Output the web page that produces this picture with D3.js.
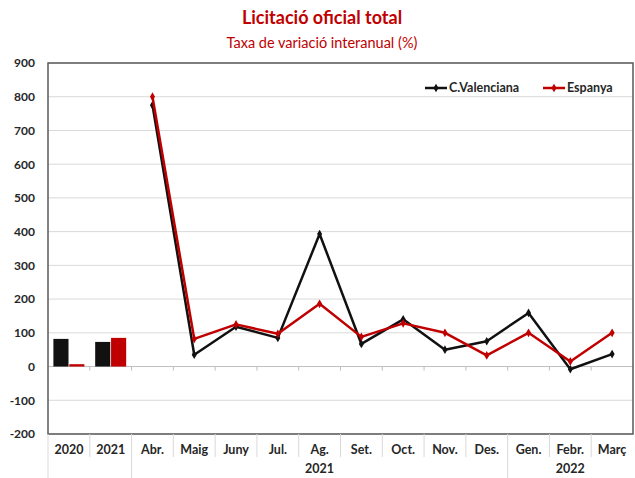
<!DOCTYPE html>
<html>
<head>
<meta charset="utf-8">
<script src="https://cdn.jsdelivr.net/npm/d3@7"></script>
<style>
  body { margin: 0; background: #fff; }
  svg text { font-family: Lato, "Noto Sans", sans-serif; }
</style>
</head>
<body>
<div id="chart"></div>
<script>
// categories: two annual bars then monthly points
const categories = ["2020", "2021", "Abr.", "Maig", "Juny", "Jul.", "Ag.", "Set.", "Oct.", "Nov.", "Des.", "Gen.", "Febr.", "Març"];
const yearGroups = [
    { label: "", from: 0, to: 1 },
    { label: "2021", from: 2, to: 10 },
    { label: "2022", from: 11, to: 13 }
];
const seriesNames = ["C.Valenciana", "Espanya"];
const annualCV = [82, 73];
const annualES = [7, 85];
const monthlyCV = [775, 35, 118, 85, 393, 67, 140, 50, 75, 159, -8, 37];
const monthlyES = [800, 82, 125, 97, 186, 88, 128, 100, 33, 100, 15, 100];
const yTicks = [-200, -100, 0, 100, 200, 300, 400, 500, 600, 700, 800, 900];

const W = 635, H = 478;
const mLeft = 48, mRight = 633, mTop = 63, mBottom = 434;
const colors = { "C.Valenciana": "#111111", "Espanya": "#c00000" };
const labelSize = "12.5px";

const svg = d3.select("#chart").append("svg")
    .attr("width", W)
    .attr("height", H);

const x = d3.scaleBand().domain(categories).range([mLeft, mRight]).padding(0);
const y = d3.scaleLinear().domain([-200, 900]).range([mBottom, mTop]);
const xInner = d3.scaleBand().domain(seriesNames)
    .range([5.4, x.bandwidth() - 5.4]).paddingInner(0.05);

// titles
svg.append("text")
    .attr("x", 322).attr("y", 24)
    .attr("text-anchor", "middle")
    .style("font-size", "18px").style("font-weight", "bold")
    .attr("fill", "#c00000")
    .text("Licitació oficial total");
svg.append("text")
    .attr("x", 322).attr("y", 48)
    .attr("text-anchor", "middle")
    .style("font-size", "14.5px")
    .attr("fill", "#c00000")
    .text("Taxa de variació interanual (%)");

// gridlines
svg.append("g")
    .selectAll("line")
    .data(yTicks.filter(d => d !== 0))
    .enter()
    .append("line")
    .attr("x1", mLeft).attr("x2", mRight)
    .attr("y1", d => y(d)).attr("y2", d => y(d))
    .attr("stroke", "#d9d9d9").attr("stroke-width", 1);

// zero line with category ticks
svg.append("line")
    .attr("x1", mLeft).attr("x2", mRight)
    .attr("y1", y(0)).attr("y2", y(0))
    .attr("stroke", "#bfbfbf").attr("stroke-width", 1);
svg.append("g")
    .selectAll("line")
    .data(categories.slice(1))
    .enter()
    .append("line")
    .attr("x1", d => x(d)).attr("x2", d => x(d))
    .attr("y1", y(0)).attr("y2", y(0) + 4)
    .attr("stroke", "#bfbfbf");

// y axis labels (plain hyphen for negatives)
const yAxis = d3.axisLeft(y).tickValues(yTicks).tickSize(0).tickPadding(13)
    .tickFormat(d => String(d));
const gy = svg.append("g").attr("transform", `translate(${mLeft},0)`).call(yAxis);
gy.select(".domain").remove();
gy.selectAll("text")
    .style("font-size", "12px").style("font-weight", "bold")
    .style("font-family", "Lato, sans-serif")
    .attr("fill", "#262626");

// bars for annual values
const annual = categories.slice(0, 2).map((c, i) => ({
    cat: c,
    values: [
        { name: "C.Valenciana", v: annualCV[i] },
        { name: "Espanya", v: annualES[i] }
    ]
}));
svg.append("g")
    .selectAll("g")
    .data(annual)
    .enter()
    .append("g")
    .attr("transform", d => `translate(${x(d.cat)},0)`)
    .selectAll("rect")
    .data(d => d.values)
    .enter()
    .append("rect")
    .attr("x", d => xInner(d.name))
    .attr("width", xInner.bandwidth())
    .attr("y", d => y(Math.max(0, d.v)))
    .attr("height", d => Math.abs(y(d.v) - y(0)))
    .attr("fill", d => colors[d.name]);

// monthly lines
const months = categories.slice(2);
const lineSeries = [
    { name: "C.Valenciana", values: monthlyCV },
    { name: "Espanya", values: monthlyES }
];
const line = d3.line()
    .x((d, i) => x(months[i]) + x.bandwidth() / 2)
    .y(d => y(d));
const diamond = d3.symbol().type(d3.symbolDiamond).size(22);

lineSeries.forEach(s => {
    const g = svg.append("g");
    g.append("path")
        .datum(s.values)
        .attr("d", line)
        .attr("fill", "none")
        .attr("stroke", colors[s.name])
        .attr("stroke-width", 2.5)
        .attr("stroke-linejoin", "round");
    g.selectAll("path.m")
        .data(s.values)
        .enter()
        .append("path")
        .attr("class", "m")
        .attr("d", diamond)
        .attr("transform", (d, i) => `translate(${x(months[i]) + x.bandwidth() / 2},${y(d)})`)
        .attr("fill", colors[s.name]);
});

// plot border
svg.append("rect")
    .attr("x", mLeft).attr("y", mTop)
    .attr("width", mRight - mLeft).attr("height", mBottom - mTop)
    .attr("fill", "none")
    .attr("stroke", "#595959").attr("stroke-width", 1.5);

// category labels with separators
const catG = svg.append("g");
catG.selectAll("text")
    .data(categories)
    .enter()
    .append("text")
    .attr("x", d => x(d) + x.bandwidth() / 2)
    .attr("y", 454)
    .attr("text-anchor", "middle")
    .style("font-size", labelSize).style("font-weight", "bold")
    .attr("fill", "#262626")
    .text(d => d);

const groupStarts = yearGroups.map(g => g.from);
catG.selectAll("line")
    .data(categories)
    .enter()
    .append("line")
    .attr("x1", d => x(d)).attr("x2", d => x(d))
    .attr("y1", mBottom)
    .attr("y2", (d, i) => groupStarts.includes(i) ? H : 457)
    .attr("stroke", "#d9d9d9").attr("stroke-width", 1);

svg.append("g")
    .selectAll("text")
    .data(yearGroups.filter(g => g.label))
    .enter()
    .append("text")
    .attr("x", g => (x(categories[g.from]) + x(categories[g.to]) + x.bandwidth()) / 2)
    .attr("y", 473)
    .attr("text-anchor", "middle")
    .style("font-size", labelSize).style("font-weight", "bold")
    .attr("fill", "#262626")
    .text(g => g.label);

// legend
const legend = svg.append("g");
const legendItems = [
    { name: "C.Valenciana", x: 425 },
    { name: "Espanya", x: 543 }
];
legendItems.forEach(it => {
    legend.append("line")
        .attr("x1", it.x).attr("x2", it.x + 22)
        .attr("y1", 88).attr("y2", 88)
        .attr("stroke", colors[it.name]).attr("stroke-width", 2.5);
    legend.append("path")
        .attr("d", diamond)
        .attr("transform", `translate(${it.x + 11},88)`)
        .attr("fill", colors[it.name]);
    legend.append("text")
        .attr("x", it.x + 24).attr("y", 92)
        .style("font-size", labelSize).style("font-weight", "bold")
        .attr("fill", "#262626")
        .text(it.name);
});
</script>
</body>
</html>
